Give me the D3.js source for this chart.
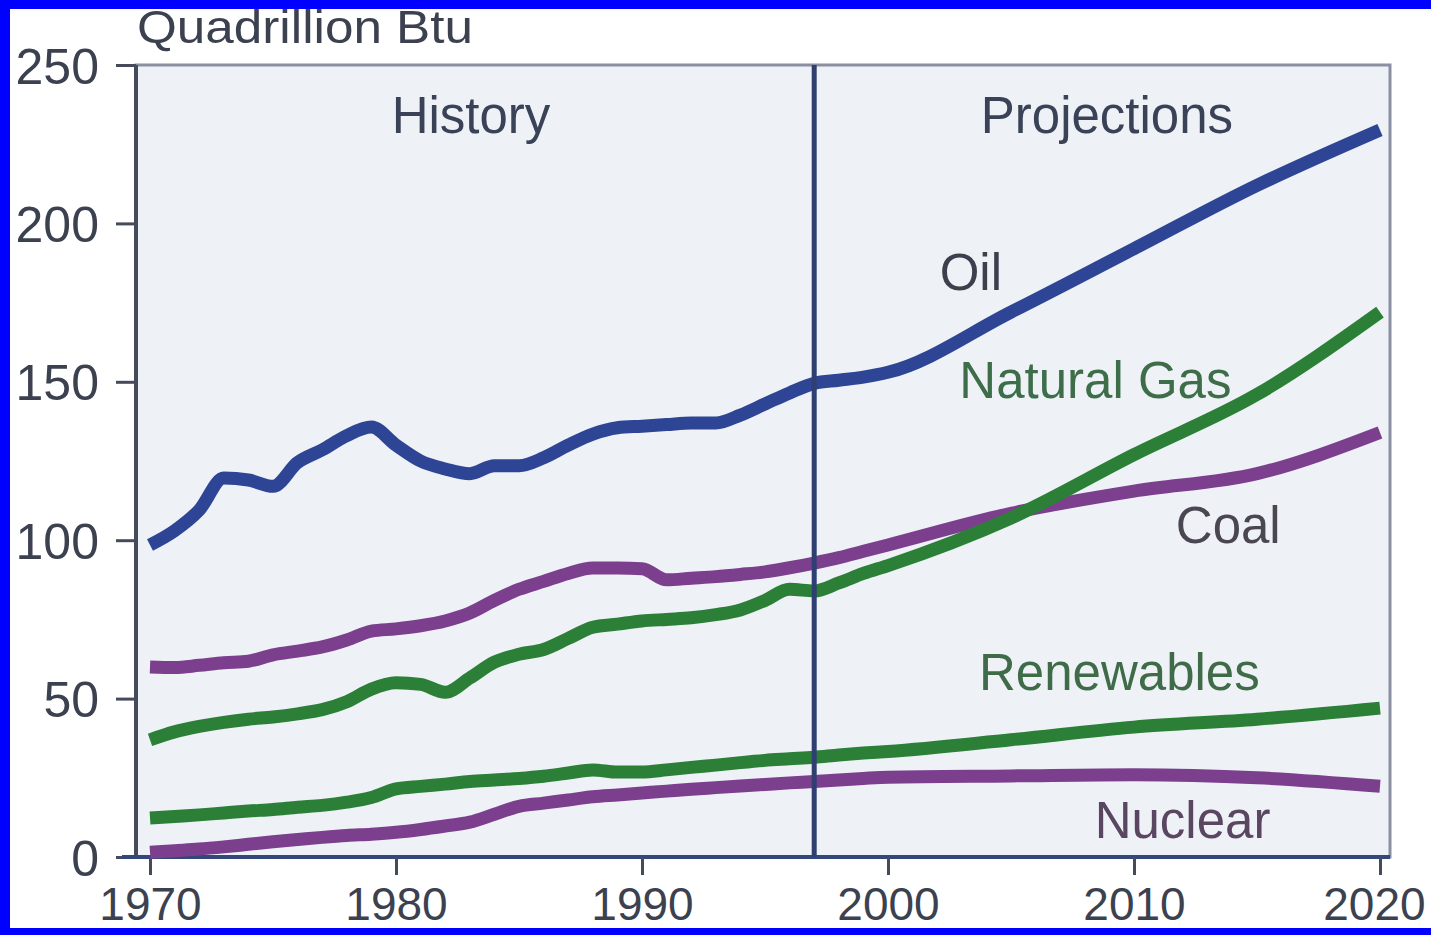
<!DOCTYPE html>
<html>
<head>
<meta charset="utf-8">
<script src="https://cdn.jsdelivr.net/npm/d3@7"></script>
<style>
  body { margin: 0; background: #fff; }
  svg { display: block; font-family: 'Liberation Sans', Arial, sans-serif; }
</style>
</head>
<body>
<script>
// years: annual history, then 5-year projection steps
const years = [
  1970, 1971, 1972, 1973, 1974, 1975, 1976, 1977, 1978, 1979,
  1980, 1981, 1982, 1983, 1984, 1985, 1986, 1987, 1988, 1989,
  1990, 1991, 1992, 1993, 1994, 1995, 1996, 1997, 1998, 1999,
  2000, 2005, 2010, 2015, 2020,
];

const oil = [
  98.5, 103, 109.5, 119.6, 119, 117, 124.5, 128.5, 133, 135.7,
  130, 125, 122.5, 121, 123.5, 123.5, 126, 130, 133.5, 135.5,
  136, 136.5, 137, 137, 139.5, 143, 146.5, 149.5, 150.5, 151.5,
  153, 172, 192, 212, 229.5,
];
const coal = [
  60, 59.8, 60.5, 61.3, 61.8, 63.8, 65, 66.3, 68.5, 71.3,
  72, 73, 74.5, 77, 81, 84.5, 87, 89.5, 91.2, 91.2,
  91, 87.5, 88, 88.5, 89.2, 90, 91.3, 92.8, 94.5, 96.5,
  98.5, 108.5, 115.5, 121, 134,
];
const naturalGas = [
  37, 39.5, 41.2, 42.5, 43.5, 44.2, 45.2, 46.5, 49, 53,
  55, 54.5, 52, 56.5, 61.5, 64, 65.5, 69, 72.5, 73.5,
  74.5, 75, 75.5, 76.5, 78, 81, 84.5, 84, 86.5, 89.5,
  92, 107, 127, 146, 172,
];
const renewables = [
  12.3, 12.8, 13.3, 13.9, 14.5, 15, 15.7, 16.3, 17.3, 18.8,
  21.5, 22.3, 23, 23.8, 24.3, 24.8, 25.5, 26.5, 27.5, 26.8,
  26.8, 27.5, 28.3, 29, 29.8, 30.5, 31, 31.5, 32.2, 32.8,
  33.3, 37, 41, 43.5, 47,
];
const nuclear = [
  1.5, 2, 2.5, 3.2, 4, 4.8, 5.5, 6.2, 6.8, 7.2,
  7.8, 8.7, 9.8, 11, 13.5, 16, 17, 18, 19, 19.6,
  20.2, 20.8, 21.4, 21.9, 22.4, 22.9, 23.4, 23.8, 24.3, 24.8,
  25.2, 25.6, 26, 25, 22.3,
];

const xTicks = [1970, 1980, 1990, 2000, 2010, 2020];
const yTicks = [0, 50, 100, 150, 200, 250];
const projectionStart = 1997;

const W = 1431, H = 935;
const plot = { left: 136, right: 1390, top: 65, bottom: 857 };
const font = "'Liberation Sans', Arial, sans-serif";

const svg = d3.select('body').append('svg')
  .attr('width', W)
  .attr('height', H);

// white page inside the blue frame
svg.append('rect').attr('width', W).attr('height', H).attr('fill', '#0000fe');
svg.append('rect').attr('x', 10).attr('y', 9).attr('width', W - 10).attr('height', 919).attr('fill', '#fff');

const x = d3.scaleLinear().domain([1970, 2020]).range([150, 1380]);
const y = d3.scaleLinear().domain([0, 250]).range([plot.bottom, plot.top]);

// plot background
svg.append('rect')
  .attr('x', plot.left)
  .attr('y', plot.top)
  .attr('width', plot.right - plot.left)
  .attr('height', plot.bottom - plot.top)
  .attr('fill', '#eef2f7')
  .attr('stroke', '#8a90a2')
  .attr('stroke-width', 3);

// y axis
const yAxis = svg.append('g')
  .attr('transform', `translate(${plot.left},0)`)
  .call(d3.axisLeft(y).tickValues(yTicks).tickSize(20).tickPadding(17));
yAxis.select('.domain').attr('stroke', '#464b5c').attr('stroke-width', 4)
  .attr('d', `M0,${plot.top}V${plot.bottom}`);
yAxis.selectAll('.tick line').attr('stroke', '#464b5c').attr('stroke-width', 3);
yAxis.selectAll('.tick text')
  .attr('fill', '#3c4150')
  .style('font-size', '50px')
  .style('font-family', font)
  .attr('dy', '0.36em');

// x axis (labels kept just inside the bottom frame)
const xAxis = svg.append('g')
  .attr('transform', `translate(0,${plot.bottom})`)
  .call(d3.axisBottom(x).tickValues(xTicks).tickFormat(d3.format('d')).tickSize(18).tickPadding(12));
xAxis.select('.domain').attr('stroke', '#34477a').attr('stroke-width', 4)
  .attr('d', `M${plot.left - 14},0H${plot.right}`);
xAxis.selectAll('.tick line').attr('stroke', '#464b5c').attr('stroke-width', 3);
xAxis.selectAll('.tick text')
  .attr('fill', '#3c4150')
  .style('font-size', '46px')
  .style('font-family', font)
  .attr('dy', '0.71em');
// last label sits at the right edge
xAxis.selectAll('.tick text').filter((d) => d === 2020).attr('text-anchor', 'end').attr('dx', '0.98em');

// unit label
svg.append('text')
  .attr('x', plot.left + 1)
  .attr('y', 43)
  .attr('fill', '#3c4150')
  .attr('textLength', 336)
  .attr('lengthAdjust', 'spacingAndGlyphs')
  .style('font-size', '47px')
  .text('Quadrillion Btu');

// series
const series = [
  { name: 'Nuclear', values: nuclear, color: '#7b3f8e' },
  { name: 'Renewables', values: renewables, color: '#2b7f37' },
  { name: 'Coal', values: coal, color: '#7b3f8e' },
  { name: 'Natural Gas', values: naturalGas, color: '#2b7f37' },
  { name: 'Oil', values: oil, color: '#2d4594' },
];

const line = d3.line()
  .x((d, i) => x(years[i]))
  .y((d) => y(d))
  .curve(d3.curveMonotoneX);

svg.append('g')
  .selectAll('path')
  .data(series)
  .join('path')
  .attr('d', (d) => line(d.values))
  .attr('fill', 'none')
  .attr('stroke', (d) => d.color)
  .attr('stroke-width', 13)
  .attr('stroke-linejoin', 'round');

// history / projections divider
svg.append('line')
  .attr('x1', x(projectionStart))
  .attr('x2', x(projectionStart))
  .attr('y1', plot.top)
  .attr('y2', plot.bottom)
  .attr('stroke', '#2f3f72')
  .attr('stroke-width', 5);

// annotations: [text, year, value, anchor, colour]
const labels = [
  ['History', 1983.05, 228.5, 'middle', '#3a4258'],
  ['Projections', 2008.9, 228.5, 'middle', '#3a4258'],
  ['Oil', 2002.1, 179, 'start', '#3c404c'],
  ['Natural Gas', 2002.9, 145, 'start', '#3e6e49'],
  ['Coal', 2011.7, 99.1, 'start', '#4a4652'],
  ['Renewables', 2003.7, 52.7, 'start', '#3f6b49'],
  ['Nuclear', 2008.4, 6, 'start', '#5b4662'],
];

svg.append('g')
  .selectAll('text')
  .data(labels)
  .join('text')
  .attr('x', (d) => x(d[1]))
  .attr('y', (d) => y(d[2]))
  .attr('text-anchor', (d) => d[3])
  .attr('fill', (d) => d[4])
  .style('font-size', '51px')
  .text((d) => d[0]);
</script>
</body>
</html>
